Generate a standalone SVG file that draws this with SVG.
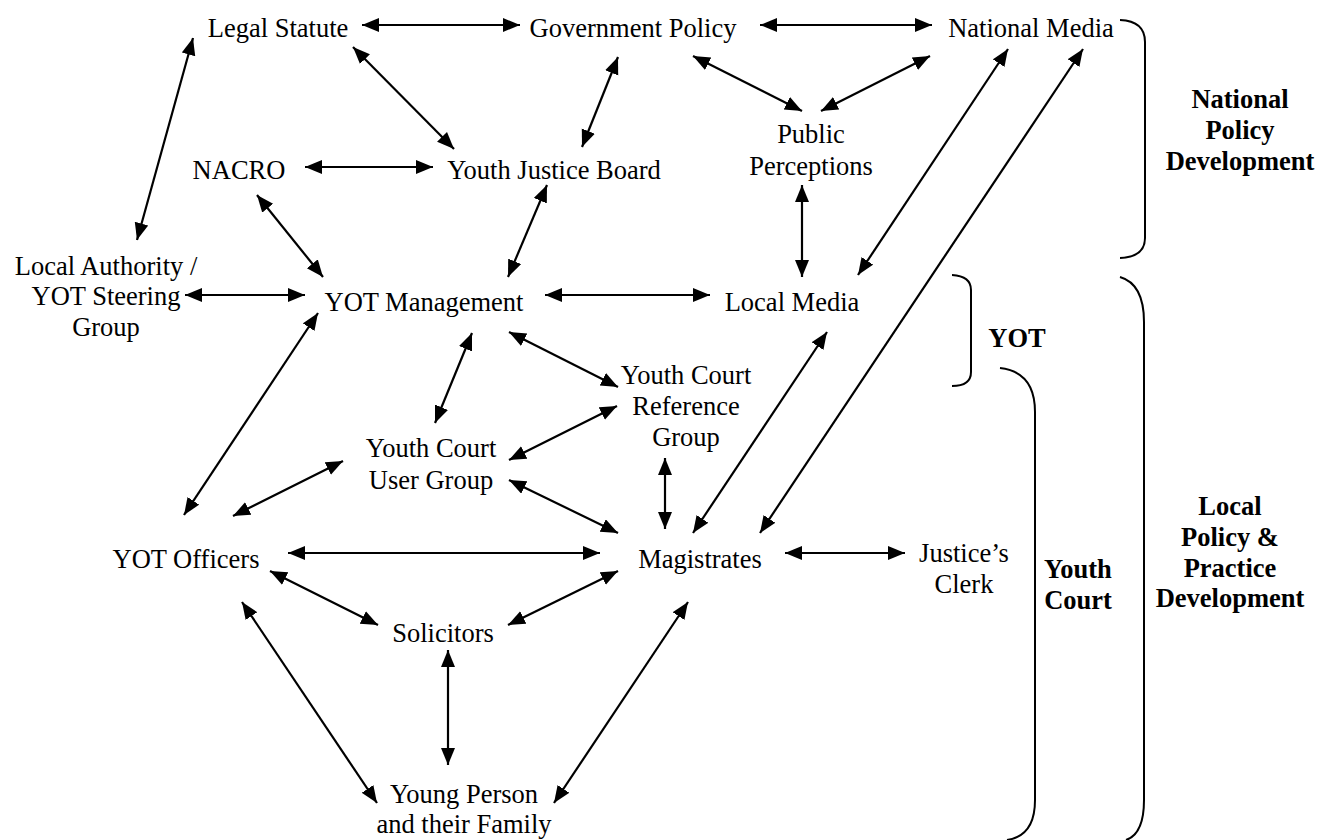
<svg xmlns="http://www.w3.org/2000/svg" width="1333" height="840" viewBox="0 0 1333 840" font-family="'Liberation Serif', Tinos, 'DejaVu Serif', serif">
<style>
text{font-family:"Liberation Serif",Tinos,"Times New Roman","DejaVu Serif",serif;font-size:26.5px;fill:#000;text-anchor:middle}
.b{font-weight:bold}
.c line{stroke:#000;stroke-width:2.2;marker-start:url(#ah);marker-end:url(#ah)}
.br path{fill:none;stroke:#000;stroke-width:2}
</style>
<defs>
<marker id="ah" markerUnits="userSpaceOnUse" markerWidth="18" markerHeight="15" refX="17" refY="7" orient="auto-start-reverse" viewBox="0 0 18 15">
<path d="M0,0 L17,7 L0,14 z" fill="#000"/>
</marker>
</defs>
<rect width="1333" height="840" fill="#fff"/>
<g id="connectors" class="c">
<line x1="362" y1="25" x2="520" y2="25"/>
<line x1="760" y1="25" x2="932" y2="25"/>
<line x1="193" y1="38" x2="137" y2="240"/>
<line x1="353" y1="47" x2="454" y2="149"/>
<line x1="305" y1="167" x2="433" y2="167"/>
<line x1="257" y1="195" x2="323" y2="277"/>
<line x1="185" y1="295" x2="305" y2="295"/>
<line x1="618" y1="57" x2="582" y2="147"/>
<line x1="693" y1="56" x2="802" y2="111"/>
<line x1="930" y1="56" x2="821" y2="111"/>
<line x1="547" y1="185" x2="508" y2="277"/>
<line x1="802" y1="185" x2="802" y2="277"/>
<line x1="1008" y1="49" x2="858" y2="275"/>
<line x1="1083" y1="49" x2="760" y2="533"/>
<line x1="545" y1="295" x2="710" y2="295"/>
<line x1="318" y1="313" x2="184" y2="515"/>
<line x1="472" y1="333" x2="435" y2="423"/>
<line x1="509" y1="332" x2="618" y2="387"/>
<line x1="617" y1="406" x2="509" y2="460"/>
<line x1="509" y1="480" x2="618" y2="533"/>
<line x1="665" y1="458" x2="665" y2="529"/>
<line x1="827" y1="332" x2="693" y2="533"/>
<line x1="343" y1="461" x2="233" y2="516"/>
<line x1="288" y1="553" x2="600" y2="553"/>
<line x1="785" y1="553" x2="905" y2="553"/>
<line x1="270" y1="571" x2="378" y2="625"/>
<line x1="618" y1="571" x2="508" y2="625"/>
<line x1="448" y1="650" x2="448" y2="765"/>
<line x1="242" y1="602" x2="377" y2="803"/>
<line x1="688" y1="602" x2="554" y2="803"/>
</g>
<g id="legal-statute"><text x="278" y="37">Legal Statute</text></g>
<g id="government-policy"><text x="633" y="37">Government Policy</text></g>
<g id="national-media"><text x="1031" y="37">National Media</text></g>
<g id="public-perceptions"><text x="811" y="143">Public</text><text x="811" y="175">Perceptions</text></g>
<g id="nacro"><text x="239" y="179">NACRO</text></g>
<g id="youth-justice-board"><text x="554" y="179">Youth Justice Board</text></g>
<g id="local-authority"><text x="106" y="275">Local Authority /</text><text x="106" y="305">YOT Steering</text><text x="106" y="336">Group</text></g>
<g id="yot-management"><text x="424" y="311">YOT Management</text></g>
<g id="local-media"><text x="792" y="311">Local Media</text></g>
<g id="youth-court-reference-group"><text x="686" y="384">Youth Court</text><text x="686" y="415">Reference</text><text x="686" y="446">Group</text></g>
<g id="youth-court-user-group"><text x="431" y="457">Youth Court</text><text x="431" y="489">User Group</text></g>
<g id="yot-officers"><text x="186" y="568">YOT Officers</text></g>
<g id="magistrates"><text x="700" y="568">Magistrates</text></g>
<g id="justices-clerk"><text x="964" y="562">Justice’s</text><text x="964" y="593">Clerk</text></g>
<g id="solicitors"><text x="443" y="642">Solicitors</text></g>
<g id="young-person"><text x="464" y="803">Young Person</text><text x="464" y="833">and their Family</text></g>
<g id="brackets" class="br">
<path d="M1120,20 Q1145,21 1145,42 L1145,238 Q1145,257 1120,258"/>
<path d="M952,275 Q971,276 971,290 L971,372 Q971,386 952,386"/>
<path d="M1000,368 Q1035,372 1035,412 L1035,800 Q1035,836 1007,840"/>
<path d="M1120,277 Q1144,284 1144,322 L1144,800 Q1144,834 1126,840"/>
</g>
<g id="national-policy-label"><text class="b" x="1240" y="108">National</text><text class="b" x="1240" y="139">Policy</text><text class="b" x="1240" y="170">Development</text></g>
<g id="yot-label"><text class="b" x="1017" y="347">YOT</text></g>
<g id="youth-court-label"><text class="b" x="1078" y="578">Youth</text><text class="b" x="1078" y="609">Court</text></g>
<g id="local-policy-label"><text class="b" x="1230" y="515">Local</text><text class="b" x="1230" y="546">Policy &amp;</text><text class="b" x="1230" y="577">Practice</text><text class="b" x="1230" y="607">Development</text></g>
</svg>
